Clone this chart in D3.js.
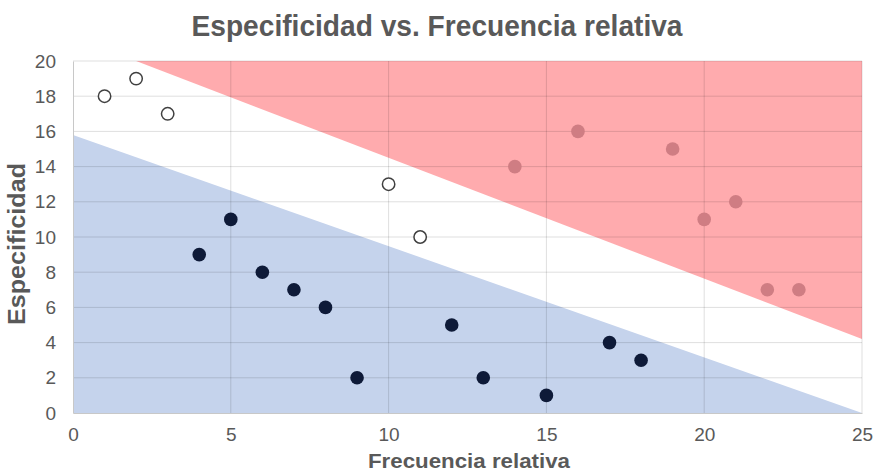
<!DOCTYPE html>
<html><head><meta charset="utf-8">
<script src="https://cdn.jsdelivr.net/npm/d3@7"></script>
<style>body{margin:0;background:#fff;} svg{display:block;font-family:"Liberation Sans",Arial,sans-serif;}</style>
</head><body>
<svg id="c" width="873" height="474"></svg>
<script>
const xTicks = [0,5,10,15,20,25];
const yTicks = [0,2,4,6,8,10,12,14,16,18,20];
// boundary regions [x, y]
const redRegion = [[2,20],[25,20],[25,4.2]];
const blueRegion = [[0,0],[0,15.8],[25,0]];
// points
const openPts = [[1,18],[2,19],[3,17],[10,13],[11,10]];
const darkPts = [[4,9],[5,11],[6,8],[7,7],[8,6],[9,2],[12,5],[13,2],[15,1],[17,4],[18,3]];
const redPts = [[14,14],[16,16],[19,15],[20,11],[21,12],[22,7],[23,7]];

const svg = d3.select("#c");
const x = d3.scaleLinear().domain([0,25]).range([73,862]);
const y = d3.scaleLinear().domain([0,20]).range([413,61]);

svg.append("path").datum(blueRegion).attr("fill","#c5d3ec")
  .attr("d", d3.line().x(d=>x(d[0])).y(d=>y(d[1])));
svg.append("path").datum(redRegion).attr("fill","#ffabae")
  .attr("d", d3.line().x(d=>x(d[0])).y(d=>y(d[1])));

// grid
const g = svg.append("g");
g.selectAll(".hy").data(yTicks.filter(d=>d>0)).join("line")
  .attr("x1",x(0)).attr("x2",x(25)).attr("y1",d=>y(d)).attr("y2",d=>y(d))
  .attr("stroke","rgba(0,0,0,0.13)").attr("stroke-width",1);
g.selectAll(".vx").data(xTicks.filter(d=>d>0)).join("line")
  .attr("x1",d=>x(d)).attr("x2",d=>x(d)).attr("y1",y(0)).attr("y2",y(20))
  .attr("stroke","rgba(0,0,0,0.13)").attr("stroke-width",1);

// axes
const xAxis = svg.append("g").attr("transform",`translate(0,${y(0)})`)
  .call(d3.axisBottom(x).tickValues(xTicks).tickSize(0).tickPadding(15));
const yAxis = svg.append("g").attr("transform",`translate(${x(0)},0)`)
  .call(d3.axisLeft(y).tickValues(yTicks).tickSize(0).tickPadding(17));
[xAxis,yAxis].forEach(a=>{
  a.select(".domain").attr("stroke","#c8c8c8").attr("stroke-width",1);
  a.selectAll("text").attr("fill","#595959").attr("font-size","19px")
   .attr("font-family","Liberation Sans, Arial, sans-serif");
});

// points
svg.append("g").selectAll("circle").data(redPts).join("circle")
  .attr("cx",d=>x(d[0])).attr("cy",d=>y(d[1])).attr("r",6.8).attr("fill","#cf7d83");
svg.append("g").selectAll("circle").data(darkPts).join("circle")
  .attr("cx",d=>x(d[0])).attr("cy",d=>y(d[1])).attr("r",6.8).attr("fill","#0e1a38");
svg.append("g").selectAll("circle").data(openPts).join("circle")
  .attr("cx",d=>x(d[0])).attr("cy",d=>y(d[1])).attr("r",6.2).attr("fill","#fff")
  .attr("stroke","#404040").attr("stroke-width",1.5);

// titles
svg.append("text").attr("x",437).attr("y",36).attr("text-anchor","middle")
  .attr("font-size","30px").attr("font-weight","bold").attr("fill","#595959")
  .attr("textLength",491).attr("lengthAdjust","spacingAndGlyphs")
  .text("Especificidad vs. Frecuencia relativa");
svg.append("text").attr("x",469).attr("y",468).attr("text-anchor","middle")
  .attr("font-size","20px").attr("font-weight","bold").attr("fill","#595959")
  .attr("textLength",202).attr("lengthAdjust","spacingAndGlyphs")
  .text("Frecuencia relativa");
svg.append("text").attr("transform",`translate(25,244) rotate(-90)`).attr("text-anchor","middle")
  .attr("font-size","23px").attr("font-weight","bold").attr("fill","#595959")
  .attr("textLength",162).attr("lengthAdjust","spacingAndGlyphs")
  .text("Especificidad");
</script>
</body></html>
